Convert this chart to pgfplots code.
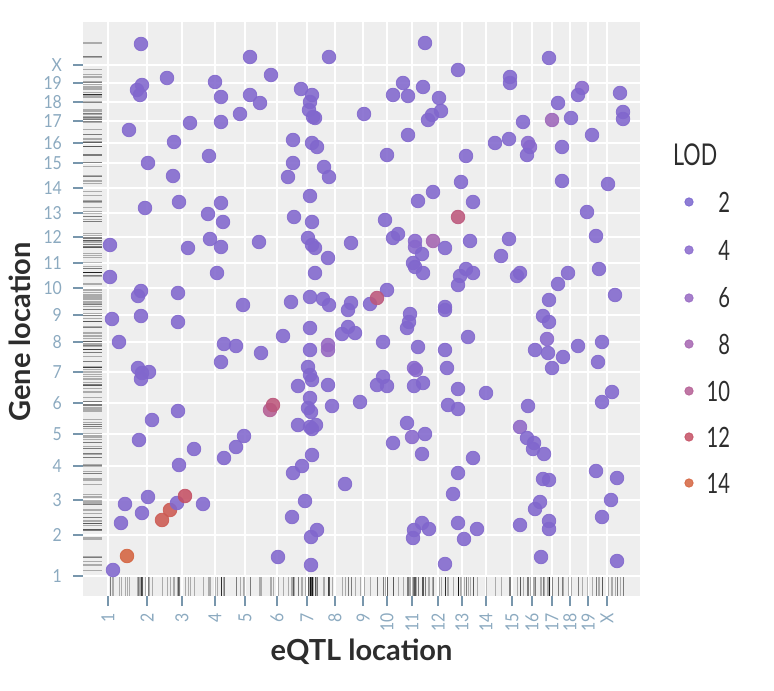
\documentclass[border=0pt]{standalone}
\usepackage{fontspec}
\setmainfont{Lato}
\newfontfamily\condfont[FakeStretch=0.72]{Lato}
\newfontfamily\tickfont[FakeStretch=0.88]{Lato}
\usepackage{pgfplots}
\usepackage{pgfplotstable}
\pgfplotsset{compat=1.18}
\definecolor{panelbg}{RGB}{238,238,238}
\definecolor{tickc}{RGB}{140,170,192}
\definecolor{tickm}{RGB}{120,150,172}
\definecolor{txt}{RGB}{45,45,45}

\pgfplotstableread{
px py lod
141 44 3
250 57 3
329 57 3
167 78 3
215 82 3
271 75 3
137 90 3
142 85 3
140 95 3
221 97 3
250 95 3
260 103 3
301 89 3
312 95 3
310 102 3
309 110 3
313 117 3
315 118 3
240 114 3
364 114 3
393 95 3
190 123 3
221 122 3
129 130 3
174 142 3
293 140 3
312 143 3
317 147 3
209 156 3
387 155 3
148 163 3
293 163 3
324 167 3
329 177 3
173 176 3
288 177 3
179 202 3
145 208 3
221 203 3
310 196 3
208 214 3
223 222 3
294 217 3
312 222 3
385 220 3
110 245 3
188 248 3
210 239 3
221 247 3
259 242 3
308 238 3
312 245 3
315 248 3
351 243 3
393 238 3
398 234 3
328 258 3
110 277 3
217 273 3
315 273 3
138 296 3
141 291 3
178 293 3
243 305 3
291 302 3
310 297 3
323 299 3
329 305 3
351 303 3
348 310 3
370 304 3
387 290 3
377 298 11
425 43 3
549 58 3
458 70 3
403 83 3
423 87 3
408 96 3
439 98 3
510 77 3
510 83 3
582 88 4
578 95 3
620 93 3
558 103 3
523 122 3
552 120 7
571 118 3
623 112 3
623 119 3
428 120 3
432 115 3
441 111 3
408 135 3
592 135 3
495 143 3
509 139 3
528 143 4
530 147 4
527 155 3
562 147 3
466 156 3
461 182 3
562 181 3
608 184 3
433 192 3
418 201 3
473 202 3
587 212 3
458 217 11
596 236 3
415 241 4
415 247 4
433 241 8
422 254 3
445 248 3
470 241 3
509 239 3
501 256 3
413 263 3
415 267 3
423 273 3
460 276 3
466 269 3
473 273 3
458 285 3
517 276 3
520 273 3
568 273 3
558 284 3
599 269 3
549 300 3
615 295 3
445 307 3
112 319 3
141 316 3
178 322 3
119 342 3
224 344 3
236 346 3
221 362 3
261 353 3
283 336 3
310 328 3
342 334 3
348 327 3
355 333 3
383 342 3
310 350 3
328 345 6
328 350 6
138 368 3
142 373 3
149 372 3
141 379 3
178 411 3
152 420 3
139 440 3
194 449 3
179 465 3
224 458 3
236 447 3
244 436 3
270 410 10
273 405 11
298 386 3
308 367 3
310 375 3
312 380 3
328 385 3
332 406 3
360 402 3
377 385 3
383 377 3
387 386 3
310 398 3
308 408 3
311 412 3
298 425 3
310 427 3
316 425 3
312 429 3
393 443 3
312 455 3
302 466 3
293 473 3
345 484 3
148 497 3
125 504 3
142 513 3
121 523 3
162 520 13
170 510 13
177 503 3
185 496 12
203 504 3
305 501 3
292 517 3
317 530 3
311 537 3
278 557 3
127 556 14
113 570 3
311 565 3
445 310 3
410 314 3
409 322 3
407 328 3
418 347 3
445 350 3
447 368 3
468 337 3
543 316 3
549 322 3
547 339 4
535 350 3
548 353 3
563 357 3
578 346 3
602 342 3
598 362 3
552 368 3
414 368 4
416 370 4
414 386 3
423 383 3
458 389 3
486 393 3
448 405 3
458 409 3
528 406 3
612 392 3
602 402 3
407 423 3
412 437 4
425 434 3
422 454 3
520 427 5
527 438 3
534 443 3
533 449 3
544 454 3
473 458 3
458 473 3
453 494 3
543 479 3
549 480 3
596 471 3
617 478 3
611 500 3
602 517 3
540 502 3
535 509 3
549 521 3
549 529 3
520 525 3
458 523 3
477 529 3
464 539 3
422 523 3
414 530 3
413 538 3
429 529 3
445 564 3
541 557 3
617 561 3
}\pts

\pgfplotstableread{
px py lod
689 202 2
689 250 4
689 298 6
689 344 8
689 391 10
689 437 12
689 483 14
}\legpts

\begin{document}
\begin{tikzpicture}
\useasboundingbox (0,0) rectangle (387pt,345pt);
\begin{axis}[
  x=0.5pt, y=0.5pt,
  anchor=south west, at={(41.5pt,47pt)},
  xmin=83, xmax=640, ymin=94, ymax=668,
  clip=false,
  axis background/.style={fill=panelbg},
  axis line style={draw=none},
  xtick={108,147,182,215,245,277,307,335,363,387,412,438,462,486,512,532,552,570,588,607},
  xticklabels={1,2,3,4,5,6,7,8,9,10,11,12,13,14,15,16,17,18,19,X},
  ytick={114,155,190,224,256,287,318,348,375,402,427,453,477,502,527,547,569,588,607,625},
  yticklabels={1,2,3,4,5,6,7,8,9,10,11,12,13,14,15,16,17,18,19,X},
  xtick pos=bottom, ytick pos=left,
  tick align=outside, major tick length=5pt,
  tick style={draw=tickm, line width=0.7pt},
  minor tick num=1, minor tick length=0pt,
  grid=both,
  major grid style={white, line width=1.1pt},
  minor grid style={white, line width=0.5pt},
  xticklabel style={rotate=90, anchor=east, text=tickc, font=\tickfont\fontsize{9}{9}\selectfont},
  yticklabel style={text=tickc, xshift=-2pt, font=\tickfont\fontsize{9}{9}\selectfont},
  xlabel={eQTL location}, ylabel={Gene location},
  xlabel style={at={(axis description cs:0.5,-0.098)}, anchor=center, text=txt, font=\bfseries\fontsize{14.5}{15}\selectfont},
  ylabel style={at={(axis description cs:-0.113,0.46)}, anchor=center, text=txt, font=\bfseries\fontsize{14.5}{15}\selectfont},
  colormap={lod}{rgb255=(122,102,206) rgb255=(136,104,204) rgb255=(150,104,194) rgb255=(164,100,176) rgb255=(180,94,148) rgb255=(196,80,100) rgb255=(212,100,64)},
  point meta min=2, point meta max=14,
  /pgf/number format/assume math mode=true,
]
% rug marks
\addplot[only marks, mark=|, mark size=4.75pt, mark options={draw=black, draw opacity=0.28, line width=0.5pt}]
  table[x=px, y expr=103.5] {\pts};
\addplot[only marks, mark=-, mark size=4.75pt, mark options={draw=black, draw opacity=0.28, line width=0.5pt}]
  table[x expr=92.5, y expr={690-\thisrow{py}}] {\pts};
% points
\addplot[scatter, only marks, mark=*, mark size=3.4pt, point meta=explicit,
  scatter/use mapped color={draw=mapped color, fill=mapped color}, opacity=0.88]
  table[x=px, y expr={690-\thisrow{py}}, meta=lod] {\pts};
% legend keys
\addplot[scatter, only marks, mark=*, mark size=2.1pt, point meta=explicit,
  scatter/use mapped color={draw=mapped color, fill=mapped color}, opacity=0.85]
  table[x=px, y expr={690-\thisrow{py}}, meta=lod] {\legpts};
\addplot[only marks, mark=none, point meta=explicit,
  nodes near coords,
  nodes near coords style={anchor=east, xshift=24pt, text=txt, font=\condfont\fontsize{14}{14}\selectfont}]
  table[x=px, y expr={690-\thisrow{py}}, meta=lod] {\legpts};
\node[anchor=west, text=txt, font=\condfont\fontsize{15}{15}\selectfont] at (axis cs:666,535) {LOD};
\end{axis}
\end{tikzpicture}
\end{document}
